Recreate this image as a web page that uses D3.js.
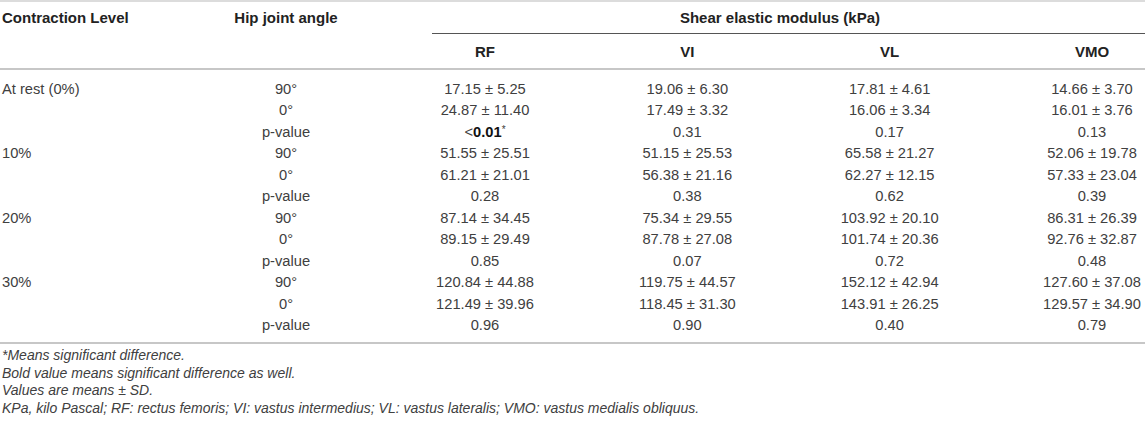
<!DOCTYPE html>
<html><head><meta charset="utf-8">
<script src="https://cdn.jsdelivr.net/npm/d3@7"></script>
<style>
html,body{margin:0;padding:0;background:#fff;}
svg{display:block;}
</style></head>
<body>
<script>
// ---- data ----
const levels = ["At rest (0%)", "10%", "20%", "30%"];
const angles = ["90°", "0°", "p-value"];
const muscles = ["RF", "VI", "VL", "VMO"];
const RF  = ["17.15 ± 5.25","24.87 ± 11.40","<0.01*","51.55 ± 25.51","61.21 ± 21.01","0.28","87.14 ± 34.45","89.15 ± 29.49","0.85","120.84 ± 44.88","121.49 ± 39.96","0.96"];
const VI  = ["19.06 ± 6.30","17.49 ± 3.32","0.31","51.15 ± 25.53","56.38 ± 21.16","0.38","75.34 ± 29.55","87.78 ± 27.08","0.07","119.75 ± 44.57","118.45 ± 31.30","0.90"];
const VL  = ["17.81 ± 4.61","16.06 ± 3.34","0.17","65.58 ± 21.27","62.27 ± 12.15","0.62","103.92 ± 20.10","101.74 ± 20.36","0.72","152.12 ± 42.94","143.91 ± 26.25","0.40"];
const VMO = ["14.66 ± 3.70","16.01 ± 3.76","0.13","52.06 ± 19.78","57.33 ± 23.04","0.39","86.31 ± 26.39","92.76 ± 32.87","0.48","127.60 ± 37.08","129.57 ± 34.90","0.79"];
const headers = ["Contraction Level", "Hip joint angle", "Shear elastic modulus (kPa)"];
const notes = ["*Means significant difference.",
  "Bold value means significant difference as well.",
  "Values are means ± SD.",
  "KPa, kilo Pascal; RF: rectus femoris; VI: vastus intermedius; VL: vastus lateralis; VMO: vastus medialis obliquus."];

const W = 1145, H = 429;
const svg = d3.select("body").append("svg").attr("width", W).attr("height", H)
  .style("font-family", "'Liberation Sans', Arial, sans-serif");

const cols = {RF, VI, VL, VMO};
const rowIdx = d3.range(levels.length * angles.length);
const y = d3.scalePoint().domain(rowIdx).range([89, 325]);
const x = d3.scalePoint().domain(muscles).range([485, 1092]);
const angleX = 286, levelX = 2;
const fs = 14.7, dyc = 5;

// lines
const lineCol = "#b5b5b5";
svg.append("line").attr("x1",0).attr("x2",W).attr("y1",1).attr("y2",1).attr("stroke","#d0d0d0").attr("stroke-width",1.5);
svg.append("line").attr("x1",432).attr("x2",W).attr("y1",33.5).attr("y2",33.5).attr("stroke","#555").attr("stroke-width",1.2);
svg.append("line").attr("x1",0).attr("x2",W).attr("y1",69).attr("y2",69).attr("stroke",lineCol).attr("stroke-width",1.5);
svg.append("line").attr("x1",0).attr("x2",W).attr("y1",343).attr("y2",343).attr("stroke",lineCol).attr("stroke-width",1.5);

// headers
const hdr = svg.append("g").attr("font-weight","bold").attr("font-size",15).attr("fill","#222");
hdr.append("text").attr("x",levelX).attr("y",23).text(headers[0]);
hdr.append("text").attr("x",angleX).attr("y",23).attr("text-anchor","middle").text(headers[1]);
hdr.append("text").attr("x",780).attr("y",23).attr("text-anchor","middle").text(headers[2]);
hdr.selectAll("text.m").data(muscles).join("text").attr("class","m")
  .attr("x", d => x(d)).attr("y",56.5).attr("text-anchor","middle").text(d => d);

// body
const body = svg.append("g").attr("font-size",fs).attr("fill","#404040");
body.selectAll("text.lv").data(levels).join("text").attr("class","lv")
  .attr("x", levelX).attr("y", (d,i) => y(i*angles.length) + dyc).text(d => d);
body.selectAll("text.an").data(rowIdx).join("text").attr("class","an")
  .attr("x", angleX).attr("y", i => y(i) + dyc).attr("text-anchor","middle")
  .text(i => angles[i % angles.length]);

muscles.forEach(m => {
  body.selectAll("text.c" + m).data(cols[m]).join("text").attr("class","c" + m)
    .attr("x", x(m)).attr("y", (d,i) => y(i) + dyc).attr("text-anchor","middle")
    .each(function(d){
      const t = d3.select(this);
      const mt = d.match(/^<([\d.]+)\*$/);
      if (mt) {
        t.append("tspan").text("<");
        t.append("tspan").attr("font-weight","bold").attr("fill","#111").text(mt[1]);
        t.append("tspan").attr("font-size",10).attr("dy",-4).text("*");
      } else t.text(d);
    });
});

// notes
svg.append("g").attr("font-size",14).attr("font-style","italic").attr("fill","#404040")
  .selectAll("text").data(notes).join("text")
  .attr("x", levelX).attr("y", (d,i) => 360 + i*17.5).text(d => d);
</script>
</body></html>
